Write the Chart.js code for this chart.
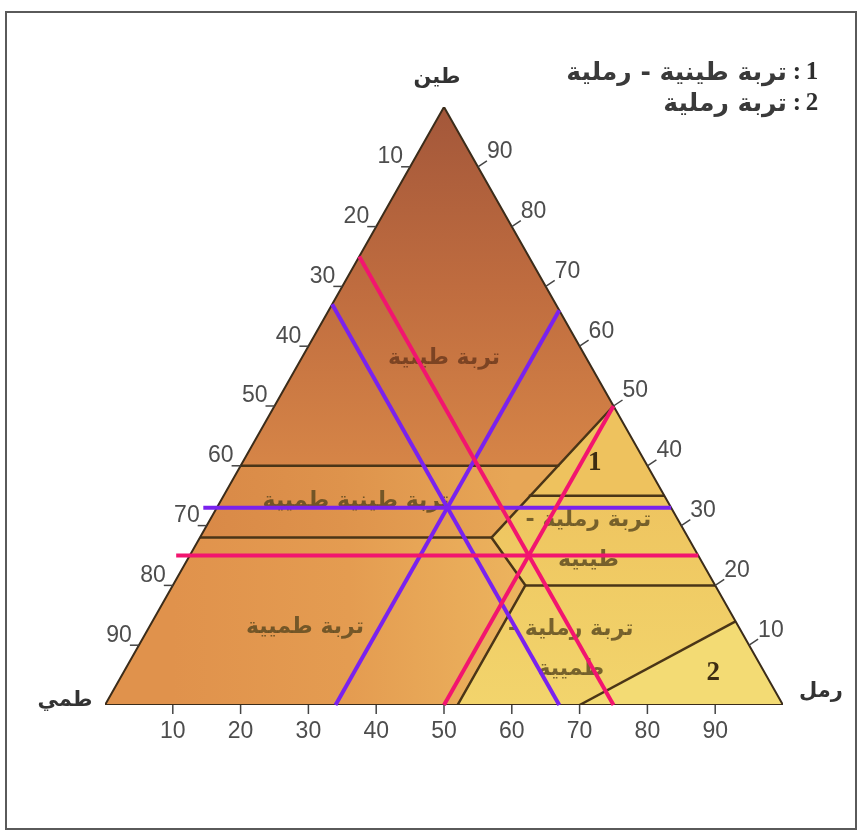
<!DOCTYPE html>
<html lang="ar">
<head>
<meta charset="utf-8">
<title>مثلث قوام التربة</title>
<script src="https://cdn.jsdelivr.net/npm/chart.js@4.4.1/dist/chart.umd.min.js"></script>
<style>
  html, body { margin: 0; padding: 0; background: #fff; }
  #frame { position: absolute; left: 5px; top: 11px; width: 848px; height: 815px; border: 2px solid #5a5a5a; }
  #soil { position: absolute; left: 0; top: 0; }
</style>
</head>
<body>
<div id="frame"></div>
<canvas id="soil" width="860" height="834"></canvas>
<script>
// percent ticks on the three sides
const tickValues = [10, 20, 30, 40, 50, 60, 70, 80, 90];

// the two soil samples read on the diagram (%)
const sampleClay = [25, 33];
const sampleSand = [50, 34];
const sampleSilt = [25, 33];

// texture classes, corners given as [sand, clay]
const regionNames = ["تربة طينية", "تربة طينية طميية", "تربة طميية", "1",
  "تربة رملية -\nطينية", "تربة رملية -\nطميية", "2"];
const regionClay = [[0, 100], [0, 40], [47, 40], [50, 50]];
const regionClaySilt = [[0, 40], [47, 40], [43, 28], [0, 28]];
const regionSilt = [[0, 28], [43, 28], [52, 20], [52, 0], [0, 0]];
const regionOne = [[50, 50], [65, 35], [45, 35]];
const regionSandClay = [[45, 35], [65, 35], [80, 20], [52, 20], [43, 28]];
const regionSandSilt = [[52, 20], [80, 20], [86, 14], [70, 0], [52, 0]];
const regionSand = [[70, 0], [100, 0], [86, 14]];
// where each class name sits, [sand, clay]
const regionLabelAt = [[21, 58], [20, 34], [23, 13], [52, 40.5], [57.5, 27.6], [64, 9.4], [87, 5.4]];

// class borders, [sand, clay]
const borderLines = [
  [[0, 40], [47, 40]],
  [[45, 35], [65, 35]],
  [[0, 28], [43, 28]],
  [[52, 20], [80, 20]],
  [[50, 50], [43, 28], [52, 20], [52, 0]],
  [[70, 0], [86, 14]]
];
const outline = [[0, 0], [100, 0], [0, 100], [0, 0]];

const sampleColors = ["#f2156f", "#7a22ee"];

// ternary -> plane: x = sand + clay/2, y = clay
const tern = (p) => ({ x: p[0] + p[1] / 2, y: p[1] });
const closed = (poly) => poly.concat([poly[0]]).map(tern);

function px(chart, sand, clay) {
  return [chart.scales.x.getPixelForValue(sand + clay / 2), chart.scales.y.getPixelForValue(clay)];
}

// gradient helpers for the fills
function vGrad(stops, fromClay, toClay) {
  return (context) => {
    const chart = context.chart;
    if (!chart.chartArea) return stops[stops.length - 1];
    const y0 = chart.scales.y.getPixelForValue(fromClay);
    const y1 = chart.scales.y.getPixelForValue(toClay);
    const g = chart.ctx.createLinearGradient(0, y0, 0, y1);
    stops.forEach((s, i) => g.addColorStop(i / (stops.length - 1), s));
    return g;
  };
}
function hGrad(stops, fromX, toX) {
  return (context) => {
    const chart = context.chart;
    if (!chart.chartArea) return stops[0];
    const x0 = chart.scales.x.getPixelForValue(fromX);
    const x1 = chart.scales.x.getPixelForValue(toX);
    const g = chart.ctx.createLinearGradient(x0, 0, x1, 0);
    stops.forEach((s, i) => g.addColorStop(i / (stops.length - 1), s));
    return g;
  };
}

const regionPolys = [regionClay, regionClaySilt, regionSilt, regionOne, regionSandClay, regionSandSilt, regionSand];
const regionFills = [
  vGrad(["#a3573a", "#bf6c3f", "#d68547"], 100, 40),
  hGrad(["#d88746", "#de934c", "#e7a656"], 10, 60),
  hGrad(["#e0924c", "#e49c51", "#ecb45e"], 10, 62),
  "#eec25e",
  vGrad(["#eec460", "#f0cb64"], 35, 20),
  vGrad(["#f0cc65", "#f2d46c"], 20, 0),
  "#f3db74"
];

const datasets = [];
regionPolys.forEach((poly, i) => {
  datasets.push({
    data: closed(poly), showLine: true, fill: "shape",
    backgroundColor: regionFills[i], borderColor: "rgba(0,0,0,0)", borderWidth: 1,
    pointRadius: 0, order: 10
  });
});
borderLines.forEach((pts) => {
  datasets.push({
    data: pts.map(tern), showLine: true, fill: false,
    borderColor: "#4a3517", borderWidth: 2.5, pointRadius: 0, order: 4
  });
});
datasets.push({
  data: outline.map(tern), showLine: true, fill: false,
  borderColor: "#3b2c1a", borderWidth: 2, pointRadius: 0, order: 3
});
sampleClay.forEach((clay, i) => {
  const sand = sampleSand[i], silt = sampleSilt[i];
  const style = { showLine: true, fill: false, borderColor: sampleColors[i], borderWidth: 4,
    pointRadius: 0, order: 1, sample: true, clip: false };
  // clay reading: horizontal, a little past the left side
  datasets.push(Object.assign({ data: [{ x: clay / 2 - 2, y: clay }, tern([100 - clay, clay])] }, style));
  // sand reading: parallel to the silt side
  datasets.push(Object.assign({ data: [tern([sand, 0]), tern([sand, 100 - sand])] }, style));
  // silt reading: parallel to the sand side
  datasets.push(Object.assign({ data: [tern([0, 100 - silt]), tern([100 - silt, 0])] }, style));
});

function line(c, x0, y0, x1, y1) {
  c.beginPath(); c.moveTo(x0, y0); c.lineTo(x1, y1); c.stroke();
}

function drawRegionLabels(chart) {
  const c = chart.ctx;
  c.save();
  c.textAlign = "center";
  c.textBaseline = "middle";
  regionNames.forEach((name, i) => {
    const [x, y] = px(chart, regionLabelAt[i][0], regionLabelAt[i][1]);
    if (name === "1" || name === "2") {
      c.direction = "ltr";
      c.font = 'bold 27px "Liberation Serif", serif';
      c.fillStyle = "#3d2c12";
      c.fillText(name, x, y);
      return;
    }
    c.direction = "rtl";
    c.font = 'bold 22px "DejaVu Sans", sans-serif';
    c.fillStyle = i === 0 ? "rgba(105,55,28,0.8)" : "rgba(88,70,30,0.8)";
    const rows = name.split("\n");
    rows.forEach((row, k) => c.fillText(row, x, y + (k - (rows.length - 1) / 2) * 40));
  });
  c.restore();
}

function drawAxisText(chart) {
  const c = chart.ctx;
  c.save();
  c.strokeStyle = "#444";
  c.lineWidth = 1.5;
  c.fillStyle = "#4d4d4d";
  c.direction = "ltr";
  c.textBaseline = "middle";
  c.font = '23px "Liberation Sans", Arial, sans-serif';
  tickValues.forEach((v) => {
    // sand, along the base
    let [x, y] = px(chart, v, 0);
    line(c, x, y, x, y + 9);
    c.textAlign = "center";
    c.fillText(String(v), x, y + 27);
    // clay, on the right side
    [x, y] = px(chart, 100 - v, v);
    line(c, x, y, x + 9, y - 6);
    c.textAlign = "left";
    c.fillText(String(v), x + 9, y - 15);
    // silt, on the left side
    [x, y] = px(chart, 0, 100 - v);
    line(c, x - 9, y, x, y);
    c.textAlign = "right";
    c.fillText(String(v), x - 7, y - 10);
  });

  // corner names
  c.direction = "rtl";
  c.textAlign = "center";
  c.fillStyle = "#333";
  c.font = 'bold 21px "DejaVu Sans", sans-serif';
  let [x, y] = px(chart, 0, 100);
  c.fillText("طين", x - 7, y - 29);
  [x, y] = px(chart, 0, 0);
  c.fillText("طمي", x - 40, y - 4);
  [x, y] = px(chart, 100, 0);
  c.fillText("رمل", x + 38, y - 13);

  // key for the numbered classes
  const keyRows = [["1", "تربة طينية - رملية"], ["2", "تربة رملية"]];
  keyRows.forEach((row, k) => {
    const ky = 73 + k * 31;
    c.direction = "ltr";
    c.textAlign = "center";
    c.font = 'bold 25px "Liberation Serif", serif';
    c.fillStyle = "#2e2e2e";
    c.fillText(row[0], 812, ky);
    c.fillText(":", 797, ky);
    c.direction = "rtl";
    c.textAlign = "right";
    c.font = 'bold 25px "DejaVu Sans", sans-serif';
    c.fillStyle = "#3a3a3a";
    c.fillText(row[1], 787, ky);
  });
  c.restore();
}

const soilText = {
  id: "soilText",
  beforeDraw(chart) { chart.$labelsDone = false; },
  beforeDatasetDraw(chart, args) {
    if (chart.$labelsDone || !chart.data.datasets[args.index].sample) return;
    chart.$labelsDone = true;
    drawRegionLabels(chart);
  },
  afterDraw(chart) { drawAxisText(chart); }
};

new Chart(document.getElementById("soil"), {
  type: "scatter",
  data: { datasets },
  options: {
    responsive: false,
    animation: false,
    devicePixelRatio: 1,
    layout: { padding: { left: 105, right: 77, top: 107, bottom: 129 } },
    scales: {
      x: { type: "linear", min: 0, max: 100, display: false },
      y: { type: "linear", min: 0, max: 100, display: false }
    },
    plugins: { legend: { display: false }, tooltip: { enabled: false } }
  },
  plugins: [soilText]
});
</script>
</body>
</html>
